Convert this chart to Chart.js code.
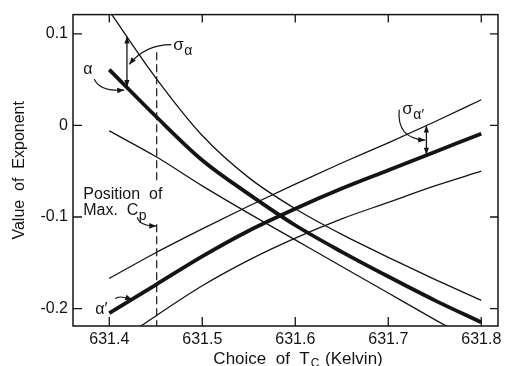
<!DOCTYPE html>
<html>
<head>
<meta charset="utf-8">
<script src="https://cdn.jsdelivr.net/npm/chart.js@4.4.1/dist/chart.umd.min.js"></script>
<style>
  html, body { margin: 0; padding: 0; background: #fff; }
</style>
</head>
<body>
<canvas id="exp-chart" width="510" height="366"></canvas>
<script>
const ctx = document.getElementById('exp-chart').getContext('2d');

const tcGrid = [631.40, 631.45, 631.50, 631.55, 631.60, 631.65, 631.70, 631.75, 631.80];

// alpha (above Tc) with its upper / lower sigma curves
const alpha      = [0.061, 0.010, -0.038, -0.075, -0.109, -0.138, -0.165, -0.191, -0.215];
const alphaUpper = [0.125, 0.052, -0.011, -0.057, -0.091, -0.119, -0.144, -0.168, -0.191];
const alphaLower = [-0.006, -0.034, -0.066, -0.096, -0.125, -0.154, -0.183, -0.212, -0.240];

// alpha' (below Tc) with its upper / lower sigma curves
const alphaP      = [-0.205, -0.174, -0.143, -0.115, -0.091, -0.069, -0.049, -0.029, -0.009];
const alphaPUpper = [-0.167, -0.139, -0.113, -0.088, -0.064, -0.041, -0.019, 0.004, 0.028];
const alphaPLower = [-0.243, -0.208, -0.175, -0.147, -0.123, -0.102, -0.084, -0.066, -0.050];

// position of max Cp (dashed marker, broken where the label sits)
const maxCpTc   = [631.451, 631.451, 631.451, 631.451, 631.451];
const maxCpSpan = [0.080, -0.064, null, -0.108, -0.219];

// sigma arrows: where, and from/to values
const sigmaTc   = [631.419, 631.741];
const sigmaLow  = [0.042, -0.032];
const sigmaHigh = [0.097, 0.000];

const xTicks = [631.4, 631.5, 631.6, 631.7, 631.8];
const yTicks = [-0.2, -0.1, 0, 0.1];
const yTickLabels = ['-0.2', '-0.1', '0', '0.1'];

const pts = ys => tcGrid.map((x, i) => ({x: x, y: ys[i]}));

function curve(ys, width) {
    return {
        data: pts(ys),
        borderColor: '#141414',
        borderWidth: width,
        pointRadius: 0,
        fill: false,
        cubicInterpolationMode: 'monotone'
    };
}

// labels and pointer curves, placed in data units
const notes = {
    alphaLabel: {x: 631.3769, y: 0.0559},
    alphaPointer: [[631.3839, 0.0505], [631.3903, 0.0366], [631.4161, 0.0387]],
    sigmaALabel: {x: 631.4688, y: 0.0828},
    sigmaAPointer: [[631.4667, 0.0882], [631.4387, 0.0882], [631.4215, 0.0667]],
    sigmaAPLabel: {x: 631.7151, y: 0.0129},
    sigmaAPPointer: [[631.7118, 0.0172], [631.7086, -0.0140], [631.7398, -0.0161]],
    cpLabel: {x: 631.372, y1: -0.0806, y2: -0.0978},
    cpPointer: [[631.4301, -0.1000], [631.4323, -0.1097], [631.4505, -0.1097]],
    alphaPLabel: {x: 631.3914, y: -0.2054},
    alphaPPointer: [[631.4065, -0.1892], [631.4097, -0.1849], [631.4247, -0.1903]],
    xTitleCenter: 631.603
};

const INK = '#141414';
const FONT = '"Liberation Sans", Arial, sans-serif';

function arrowHead(c, tx, ty, fx, fy, len, wid) {
    const a = Math.atan2(ty - fy, tx - fx);
    c.beginPath();
    c.moveTo(tx, ty);
    c.lineTo(tx - len * Math.cos(a) + wid * Math.sin(a), ty - len * Math.sin(a) - wid * Math.cos(a));
    c.lineTo(tx - len * Math.cos(a) - wid * Math.sin(a), ty - len * Math.sin(a) + wid * Math.cos(a));
    c.closePath();
    c.fill();
}

const annotate = {
    id: 'annotate',
    afterDraw(chart) {
        const c = chart.ctx;
        const a = chart.chartArea;
        const xs = chart.scales.x, ys = chart.scales.y;
        const px = v => xs.getPixelForValue(v);
        const py = v => ys.getPixelForValue(v);

        c.save();
        c.strokeStyle = INK;
        c.fillStyle = INK;

        // frame with inward ticks on all four sides
        c.lineWidth = 1.5;
        c.strokeRect(a.left, a.top, a.right - a.left, a.bottom - a.top);
        c.lineWidth = 1.3;
        c.beginPath();
        xTicks.forEach(v => {
            const p = px(v);
            c.moveTo(p, a.bottom); c.lineTo(p, a.bottom - 9);
            c.moveTo(p, a.top); c.lineTo(p, a.top + 8);
        });
        yTicks.forEach(v => {
            const p = py(v);
            c.moveTo(a.left, p); c.lineTo(a.left + 9, p);
            c.moveTo(a.right, p); c.lineTo(a.right - 8, p);
        });
        c.stroke();

        // sigma double arrows
        c.lineWidth = 1.3;
        sigmaTc.forEach((t, i) => {
            const x = px(t), y1 = py(sigmaLow[i]), y2 = py(sigmaHigh[i]);
            c.beginPath(); c.moveTo(x, y1); c.lineTo(x, y2); c.stroke();
            arrowHead(c, x, y1, x, y2, 7, 2.6);
            arrowHead(c, x, y2, x, y1, 7, 2.6);
        });

        // curved pointers
        const pointer = p => {
            const s = [px(p[0][0]), py(p[0][1])], k = [px(p[1][0]), py(p[1][1])], e = [px(p[2][0]), py(p[2][1])];
            c.lineWidth = 1.2;
            c.beginPath();
            c.moveTo(s[0], s[1]);
            c.quadraticCurveTo(k[0], k[1], e[0], e[1]);
            c.stroke();
            arrowHead(c, e[0], e[1], k[0], k[1], 7, 2.8);
        };
        pointer(notes.alphaPointer);
        pointer(notes.sigmaAPointer);
        pointer(notes.sigmaAPPointer);
        pointer(notes.cpPointer);
        pointer(notes.alphaPPointer);

        // text labels
        c.textBaseline = 'alphabetic';
        const withSub = (base, sub, x, y, size, subSize, drop) => {
            c.font = size + 'px ' + FONT;
            c.textAlign = 'left';
            c.fillText(base, x, y);
            const w = c.measureText(base).width;
            c.font = subSize + 'px ' + FONT;
            c.fillText(sub, x + w + 0.5, y + drop);
            return w + 0.5 + c.measureText(sub).width;
        };

        c.font = '16px ' + FONT;
        c.textAlign = 'center';
        c.fillText('\u03b1', px(notes.alphaLabel.x), py(notes.alphaLabel.y));
        c.fillText('\u03b1\u2032', px(notes.alphaPLabel.x), py(notes.alphaPLabel.y));

        withSub('\u03c3', '\u03b1', px(notes.sigmaALabel.x), py(notes.sigmaALabel.y), 17, 14, 5);
        withSub('\u03c3', '\u03b1\u2032', px(notes.sigmaAPLabel.x), py(notes.sigmaAPLabel.y), 17, 14, 5);

        c.font = '16px ' + FONT;
        c.textAlign = 'left';
        c.fillText('Position  of', px(notes.cpLabel.x), py(notes.cpLabel.y1));
        withSub('Max.  C', 'p', px(notes.cpLabel.x), py(notes.cpLabel.y2), 16, 14, 5);

        // x axis title with subscript
        c.font = '17px ' + FONT;
        const t1 = 'Choice  of  T', t2 = 'C', t3 = ' (Kelvin)';
        const w1 = c.measureText(t1).width, w3 = c.measureText(t3).width;
        c.font = '12px ' + FONT;
        const w2 = c.measureText(t2).width;
        const total = w1 + w2 + w3 + 2;
        let x0 = px(notes.xTitleCenter) - total / 2;
        const base = chart.height - 2;
        c.font = '17px ' + FONT;
        c.fillText(t1, x0, base);
        c.font = '12px ' + FONT;
        c.fillText(t2, x0 + w1 + 1, base + 3);
        c.font = '17px ' + FONT;
        c.fillText(t3, x0 + w1 + w2 + 2, base);

        c.restore();
    }
};

const chart = new Chart(ctx, {
    type: 'line',
    data: {
        datasets: [
            curve(alphaUpper, 1.3),
            curve(alpha, 3.8),
            curve(alphaLower, 1.3),
            curve(alphaPUpper, 1.3),
            curve(alphaP, 3.8),
            curve(alphaPLower, 1.3),
            {
                data: maxCpTc.map((x, i) => ({x: x, y: maxCpSpan[i]})),
                borderColor: INK,
                borderWidth: 1.2,
                borderDash: [8, 4],
                pointRadius: 0,
                spanGaps: false,
                fill: false
            }
        ]
    },
    options: {
        responsive: false,
        animation: false,
        devicePixelRatio: 1,
        layout: {padding: {top: 9, right: 12, left: 0, bottom: 0}},
        plugins: {
            legend: {display: false},
            tooltip: {enabled: false}
        },
        scales: {
            x: {
                type: 'linear',
                min: 631.361,
                max: 631.818,
                grid: {display: false, drawTicks: false},
                border: {display: false},
                afterBuildTicks: s => { s.ticks = xTicks.map(v => ({value: v})); },
                afterFit: s => { s.height = 40; },
                ticks: {
                    padding: 4,
                    color: INK,
                    font: {family: FONT, size: 16},
                    maxRotation: 0,
                    callback: v => v.toFixed(1)
                }
            },
            y: {
                type: 'linear',
                min: -0.219,
                max: 0.121,
                grid: {display: false, drawTicks: false},
                border: {display: false},
                afterBuildTicks: s => { s.ticks = yTicks.map(v => ({value: v})); },
                afterFit: s => { s.width = 73; },
                title: {
                    display: true,
                    text: 'Value  of  Exponent',
                    color: INK,
                    font: {family: FONT, size: 16},
                    padding: {top: 10, bottom: 0}
                },
                ticks: {
                    padding: 5,
                    color: INK,
                    font: {family: FONT, size: 16},
                    callback: (v, i) => yTickLabels[i]
                }
            }
        }
    },
    plugins: [annotate]
});
</script>
</body>
</html>
